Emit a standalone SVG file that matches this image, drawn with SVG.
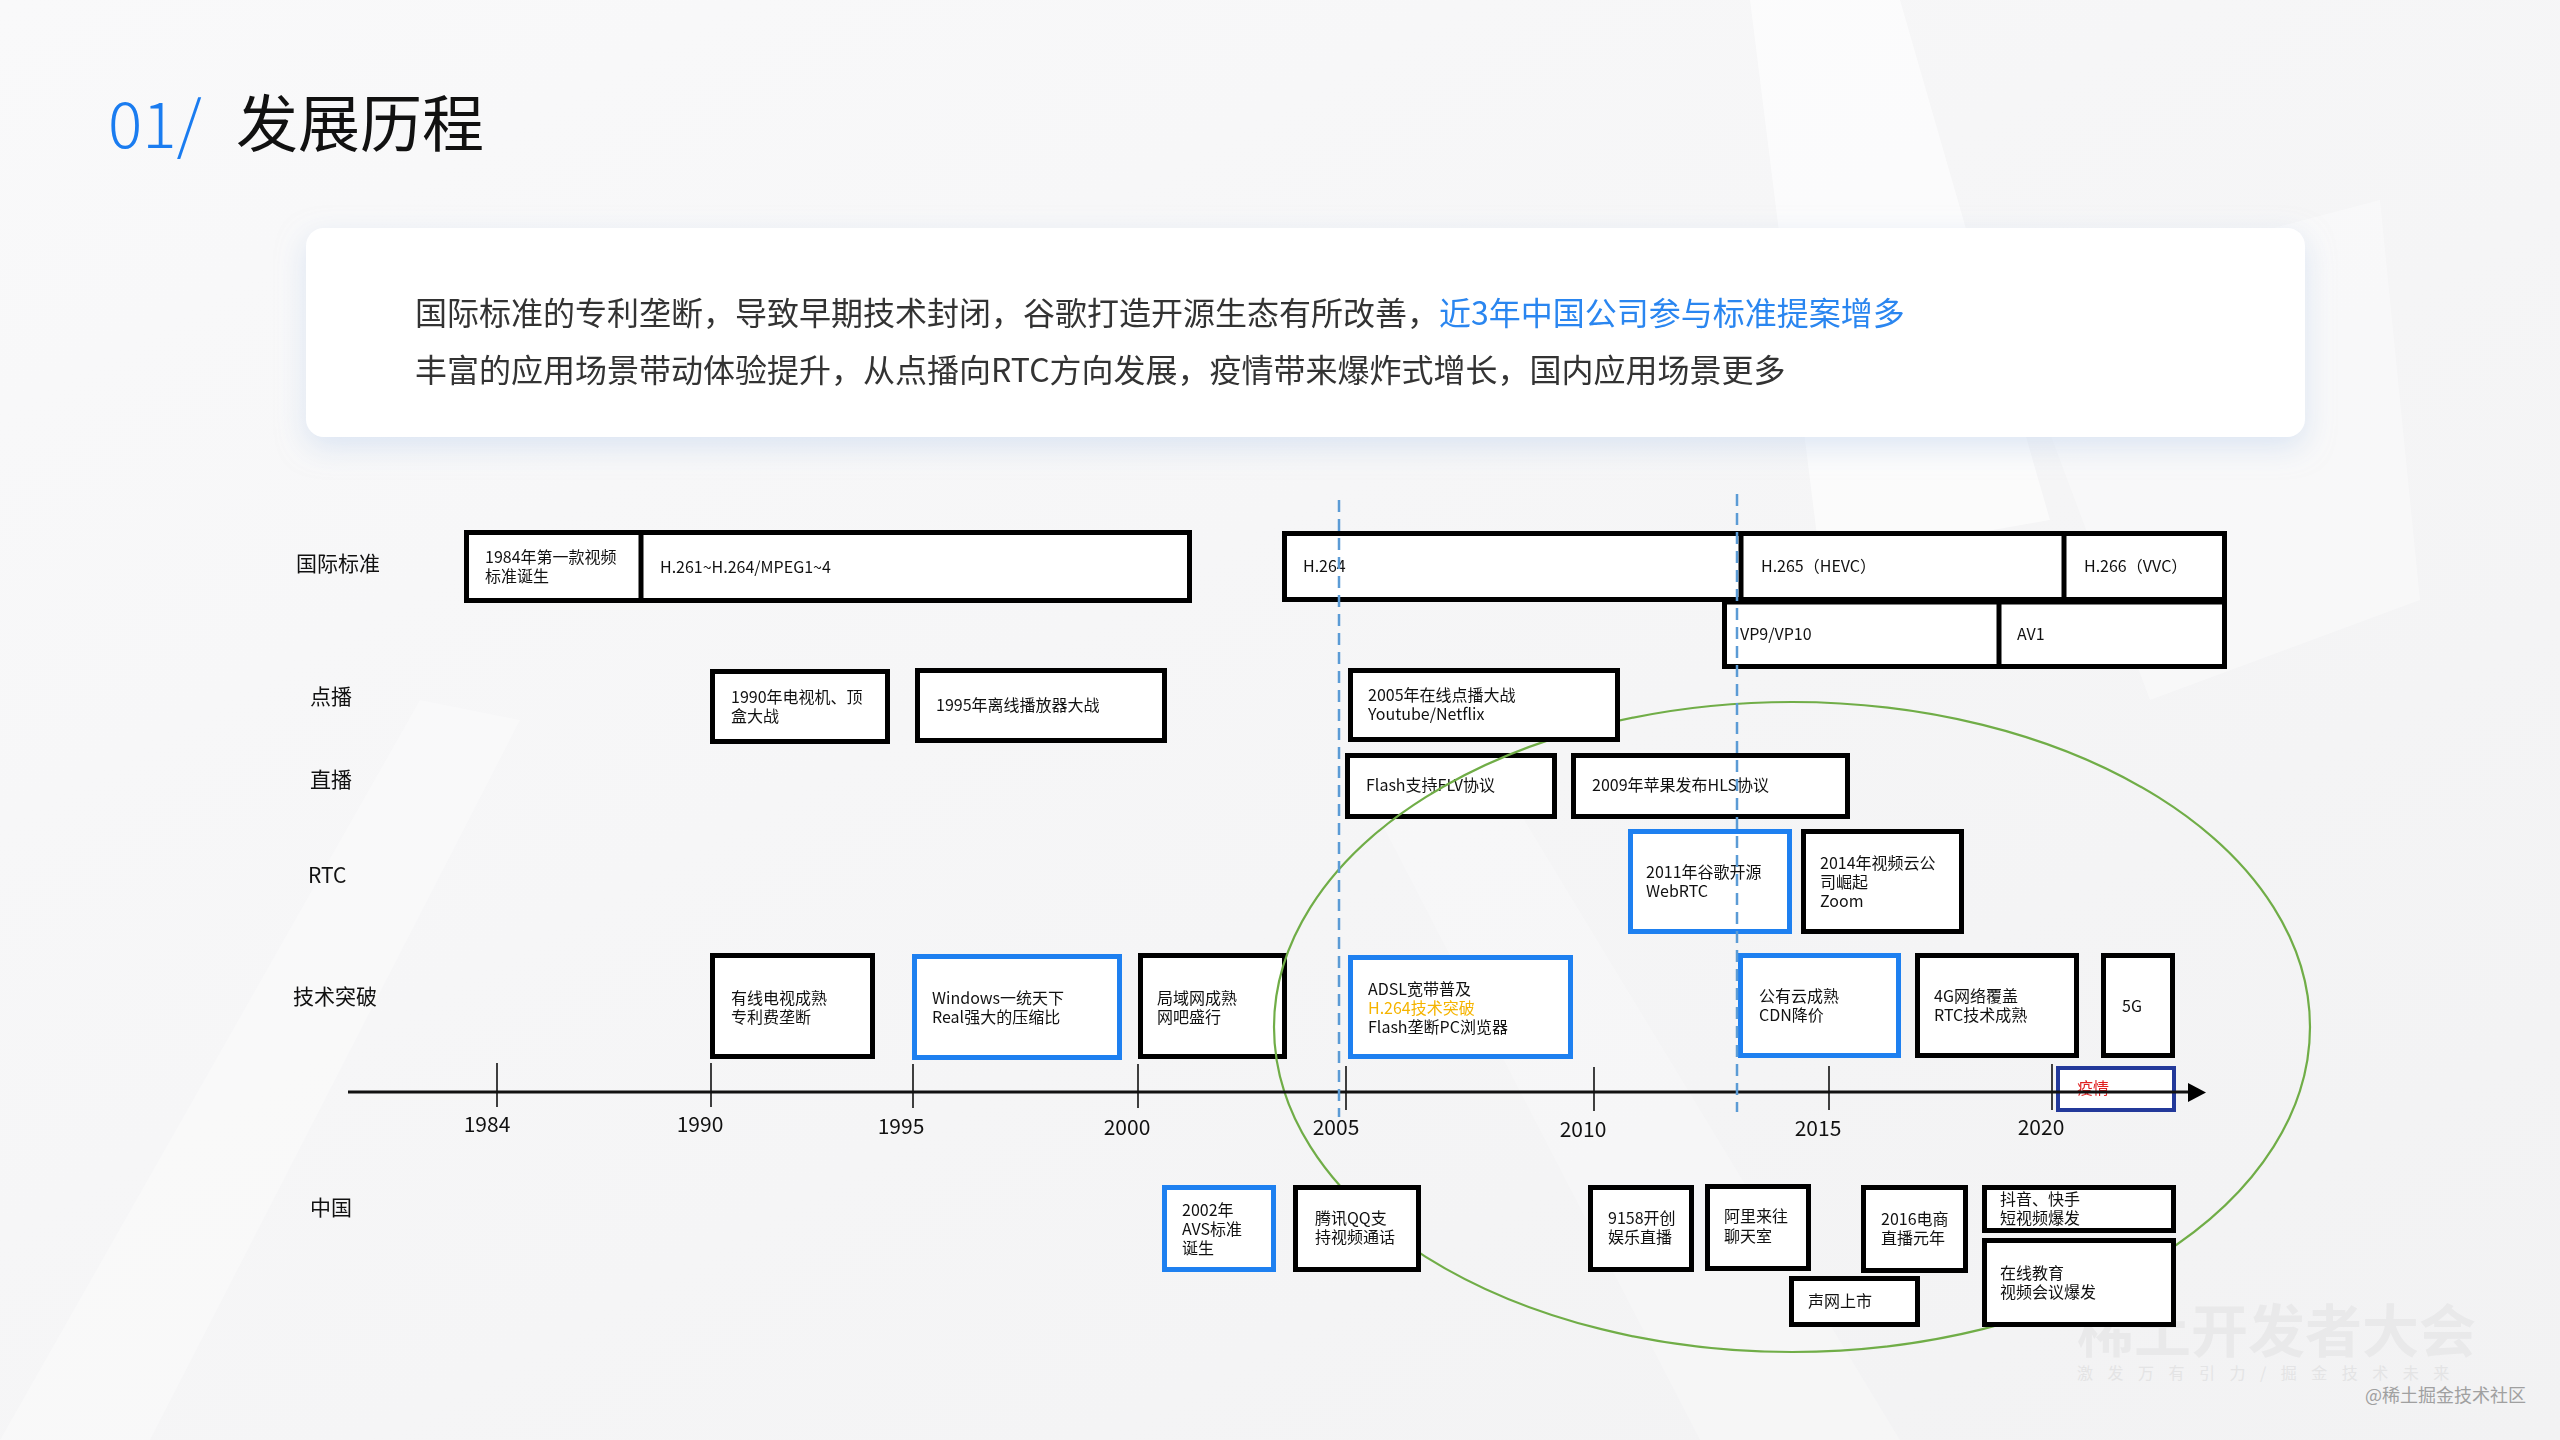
<svg xmlns="http://www.w3.org/2000/svg" width="2560" height="1440" viewBox="0 0 2560 1440">
<defs>
<style>
text{font-family:"Noto Sans CJK SC","Noto Sans",sans-serif;}
.bx{fill:#fff;stroke:#000;stroke-width:5;}
.bb{fill:#fff;stroke:#1e80f0;stroke-width:5;}
.bn{fill:#fff;stroke:#23399a;stroke-width:4;}
.dv{stroke:#000;stroke-width:5;}
.t{font-size:16px;fill:#111;}
.red{fill:#e02020;}
.gold{fill:#f5b400;}
.lb{font-size:21px;fill:#111;}
.yr{font-size:21px;fill:#111;text-anchor:middle;}
.tk{stroke:#111;stroke-width:1.6;}
.guide{stroke:#5b9bd5;stroke-width:2.5;stroke-dasharray:12 7;fill:none;}
</style>
<filter id="sh" x="-5%" y="-20%" width="110%" height="150%">
<feDropShadow dx="0" dy="10" stdDeviation="14" flood-color="#c5d6ee" flood-opacity="0.55"/>
</filter>
<linearGradient id="bg" x1="0" y1="0" x2="1" y2="1">
<stop offset="0" stop-color="#f9f9fa"/>
<stop offset="1" stop-color="#f2f2f3"/>
</linearGradient>
</defs>
<rect width="2560" height="1440" fill="url(#bg)"/>
<g id="background-shapes" opacity="0.6">
<polygon points="1750,0 1900,0 2050,520 1820,560" fill="#ffffff"/>
<polygon points="2000,300 2380,200 2420,600 2150,700" fill="#ffffff" opacity="0.6"/>
<polygon points="0,1440 420,700 520,720 150,1440" fill="#ffffff" opacity="0.5"/>
<polygon points="1500,780 1900,1440 1700,1440 1380,820" fill="#ffffff" opacity="0.4"/>
</g>
<g id="watermark">
<text x="2077" y="1352" font-size="57" font-weight="bold" fill="#e9e9ea">稀土开发者大会</text>
<text x="2077" y="1379" font-size="16" fill="#e4e4e5" letter-spacing="14.5">激发万有引力/掘金技术未来</text>
<text x="2365" y="1402" font-size="18" fill="#a0a0a0">@稀土掘金技术社区</text>
</g>
<g id="summary">
<rect x="306" y="228" width="1999" height="209" rx="18" fill="#ffffff" filter="url(#sh)"/>
<text x="415" y="325" font-size="32" fill="#333">国际标准的专利垄断，导致早期技术封闭，谷歌打造开源生态有所改善，<tspan fill="#2a86f0">近3年中国公司参与标准提案增多</tspan></text>
<text x="415" y="382" font-size="32" fill="#333">丰富的应用场景带动体验提升，从点播向RTC方向发展，疫情带来爆炸式增长，国内应用场景更多</text>
</g>
<g id="title">
<text x="108" y="148" font-size="64" fill="#1a7cf0" font-weight="300">01/</text>
<text x="236" y="147" font-size="62" fill="#111">发展历程</text>
</g>
<g id="row-labels">
<text class="lb" x="296" y="571">国际标准</text>
<text class="lb" x="310" y="704">点播</text>
<text class="lb" x="310" y="787">直播</text>
<text class="lb" x="308" y="883">RTC</text>
<text class="lb" x="293" y="1004">技术突破</text>
<text class="lb" x="310" y="1215">中国</text>
</g>
<g id="year-labels">
<text class="yr" x="487" y="1132">1984</text>
<text class="yr" x="700" y="1132">1990</text>
<text class="yr" x="901" y="1134">1995</text>
<text class="yr" x="1127" y="1135">2000</text>
<text class="yr" x="1336" y="1135">2005</text>
<text class="yr" x="1583" y="1137">2010</text>
<text class="yr" x="1818" y="1136">2015</text>
<text class="yr" x="2041" y="1135">2020</text>
</g>
<g id="node-live-flash"><rect class="bx" x="1347.5" y="755.5" width="207" height="61"/><text class="t" x="1366" y="791">Flash支持FLV协议</text></g>
<g id="node-tech-lan"><rect class="bx" x="1140.5" y="955.5" width="144" height="101"/><text class="t" x="1157" y="1004">局域网成熟<tspan x="1157" y="1023">网吧盛行</tspan></text></g>
<g id="highlight-ellipse"><ellipse cx="1792" cy="1027" rx="518" ry="325" fill="none" stroke="#70ad47" stroke-width="2.2"/></g>
<g id="node-std-early">
<rect class="bx" x="466.5" y="532.5" width="723" height="68"/>
<line class="dv" x1="641" y1="532" x2="641" y2="601"/>
<text class="t" x="485" y="563">1984年第一款视频<tspan x="485" y="582">标准诞生</tspan></text>
<text class="t" x="660" y="573">H.261~H.264/MPEG1~4</text>
</g>
<g id="node-std-h26x">
<rect class="bx" x="1284.5" y="533.5" width="940" height="66"/>
<line class="dv" x1="1741" y1="533" x2="1741" y2="600"/>
<line class="dv" x1="2064" y1="533" x2="2064" y2="600"/>
<text class="t" x="1303" y="572">H.264</text>
<text class="t" x="1761" y="572">H.265（HEVC）</text>
<text class="t" x="2084" y="572">H.266（VVC）</text>
</g>
<g id="node-std-vp">
<rect class="bx" x="1724.5" y="602" width="500" height="64.5"/>
<line class="dv" x1="1999" y1="602" x2="1999" y2="667"/>
<text class="t" x="1740" y="640">VP9/VP10</text>
<text class="t" x="2017" y="640">AV1</text>
</g>
<g id="node-vod-1990"><rect class="bx" x="712.5" y="671.5" width="175" height="70"/><text class="t" x="731" y="703">1990年电视机、顶<tspan x="731" y="722">盒大战</tspan></text></g>
<g id="node-vod-1995"><rect class="bx" x="917.5" y="670.5" width="247" height="70"/><text class="t" x="936" y="711">1995年离线播放器大战</text></g>
<g id="node-vod-2005"><rect class="bx" x="1350.5" y="670.5" width="267" height="69"/><text class="t" x="1368" y="701">2005年在线点播大战<tspan x="1368" y="720">Youtube/Netflix</tspan></text></g>
<g id="node-live-hls"><rect class="bx" x="1573.5" y="755.5" width="274" height="61"/><text class="t" x="1592" y="791">2009年苹果发布HLS协议</text></g>
<g id="node-rtc-webrtc"><rect class="bb" x="1630.5" y="831.5" width="159" height="100"/><text class="t" x="1646" y="878">2011年谷歌开源<tspan x="1646" y="897">WebRTC</tspan></text></g>
<g id="node-rtc-2014"><rect class="bx" x="1803.5" y="831.5" width="158" height="100"/><text class="t" x="1820" y="869">2014年视频云公<tspan x="1820" y="888">司崛起</tspan><tspan x="1820" y="907">Zoom</tspan></text></g>
<g id="node-tech-cable"><rect class="bx" x="712.5" y="955.5" width="160" height="101"/><text class="t" x="731" y="1004">有线电视成熟<tspan x="731" y="1023">专利费垄断</tspan></text></g>
<g id="node-tech-windows"><rect class="bb" x="914.5" y="956.5" width="205" height="101"/><text class="t" x="932" y="1004">Windows一统天下<tspan x="932" y="1023">Real强大的压缩比</tspan></text></g>
<g id="node-tech-adsl"><rect class="bb" x="1350.5" y="957.5" width="220" height="99"/><text class="t" x="1368" y="995">ADSL宽带普及<tspan class="gold" x="1368" y="1014">H.264技术突破</tspan><tspan x="1368" y="1033">Flash垄断PC浏览器</tspan></text></g>
<g id="node-tech-cloud"><rect class="bb" x="1740.5" y="955.5" width="158" height="100"/><text class="t" x="1759" y="1002">公有云成熟<tspan x="1759" y="1021">CDN降价</tspan></text></g>
<g id="node-tech-4g"><rect class="bx" x="1917.5" y="955.5" width="159" height="100"/><text class="t" x="1934" y="1002">4G网络覆盖<tspan x="1934" y="1021">RTC技术成熟</tspan></text></g>
<g id="node-tech-5g"><rect class="bx" x="2103.5" y="955.5" width="69" height="100"/><text class="t" x="2122" y="1012">5G</text></g>
<g id="node-epidemic"><rect class="bn" x="2058" y="1068" width="116" height="42"/><text class="t red" x="2077" y="1094">疫情</text></g>
<g id="node-cn-avs"><rect class="bb" x="1164.5" y="1187.5" width="109" height="82"/><text class="t" x="1182" y="1216">2002年<tspan x="1182" y="1235">AVS标准</tspan><tspan x="1182" y="1254">诞生</tspan></text></g>
<g id="node-cn-qq"><rect class="bx" x="1295.5" y="1187.5" width="123" height="82"/><text class="t" x="1315" y="1224">腾讯QQ支<tspan x="1315" y="1243">持视频通话</tspan></text></g>
<g id="node-cn-9158"><rect class="bx" x="1590.5" y="1187.5" width="101" height="82"/><text class="t" x="1608" y="1224">9158开创<tspan x="1608" y="1243">娱乐直播</tspan></text></g>
<g id="node-cn-laiwang"><rect class="bx" x="1707.5" y="1186.5" width="101" height="82"/><text class="t" x="1724" y="1222">阿里来往<tspan x="1724" y="1242">聊天室</tspan></text></g>
<g id="node-cn-2016"><rect class="bx" x="1863.5" y="1187.5" width="102" height="83"/><text class="t" x="1881" y="1225">2016电商<tspan x="1881" y="1244">直播元年</tspan></text></g>
<g id="node-cn-agora"><rect class="bx" x="1791.5" y="1278.5" width="126" height="46"/><text class="t" x="1808" y="1307">声网上市</text></g>
<g id="node-cn-douyin"><rect class="bx" x="1984.5" y="1187.5" width="189" height="43"/><text class="t" x="2000" y="1205">抖音、快手<tspan x="2000" y="1224">短视频爆发</tspan></text></g>
<g id="node-cn-edu"><rect class="bx" x="1984.5" y="1240.5" width="189" height="84"/><text class="t" x="2000" y="1279">在线教育<tspan x="2000" y="1298">视频会议爆发</tspan></text></g>
<g id="connectors">
<line x1="348" y1="1092" x2="2192" y2="1092" stroke="#111" stroke-width="3"/>
<polygon points="2188,1083 2206,1092.5 2188,1102" fill="#000"/>
<line class="tk" x1="497" y1="1063" x2="497" y2="1107"/>
<line class="tk" x1="711" y1="1063" x2="711" y2="1107"/>
<line class="tk" x1="913" y1="1064" x2="913" y2="1108"/>
<line class="tk" x1="1138" y1="1064" x2="1138" y2="1108"/>
<line class="tk" x1="1346" y1="1066" x2="1346" y2="1110"/>
<line class="tk" x1="1594" y1="1067" x2="1594" y2="1111"/>
<line class="tk" x1="1829" y1="1066" x2="1829" y2="1110"/>
<line class="tk" x1="2052" y1="1064" x2="2052" y2="1110"/>
<line class="guide" x1="1339" y1="500" x2="1339" y2="1117"/>
<line class="guide" x1="1737" y1="494" x2="1737" y2="1112"/>
</g>
</svg>
